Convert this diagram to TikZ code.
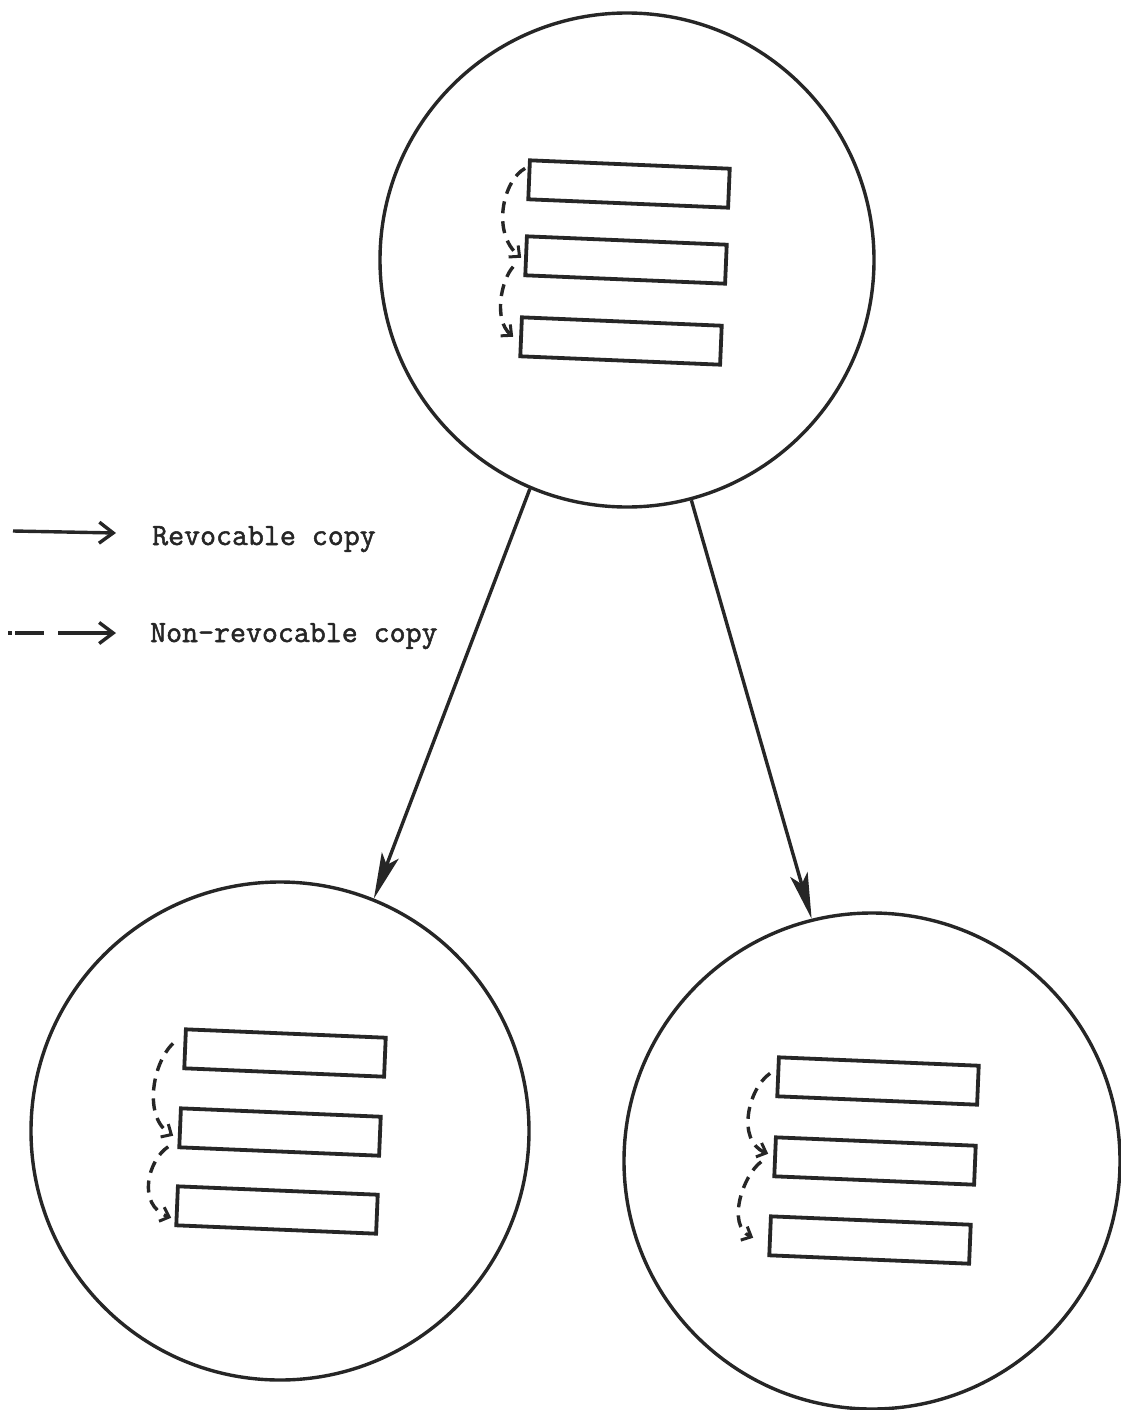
\documentclass[tikz,border=0pt]{standalone}
\usepackage{fontspec}
\newfontfamily\typer{Latin Modern Mono}[FakeBold=1.6]
\usetikzlibrary{arrows.meta,calc}
\definecolor{ink}{HTML}{262626}
\begin{document}
\begin{tikzpicture}[x=1pt,y=-1pt,
  realm/.style={draw=ink, circle, line width=3.4pt, inner sep=0pt},
  cell/.style={draw=ink, line width=3.8pt, minimum width=200pt, minimum height=39pt,
    inner sep=0pt, rotate=-2.4},
  grant/.style={draw=ink, line width=3.4pt, -{Stealth[length=46pt,width=18pt,inset=10pt]}},
  pass/.style={draw=ink, line width=3.4pt, dash pattern=on 12pt off 8pt,
    -{Straight Barb[length=8pt,width=15pt,line width=3pt]}},
  legendtip/.style={-{Straight Barb[length=14pt,width=21pt,line width=3.4pt]}},
  legendtext/.style={anchor=base west, inner sep=0pt, text=ink,
    font=\fontsize{31}{31}\selectfont\typer}
]
\useasboundingbox (0,0) rectangle (1120,1410);
\fill[white] (0,0) rectangle (1120,1410);

% the three domains
\node[realm, minimum size=494pt] (top) at (627,260) {};
\node[realm, minimum size=498pt] (left) at (280,1131) {};
\node[realm, minimum size=496pt] (right) at (872,1161) {};

% capability lists
\node[cell] (t1) at (629,184) {};
\node[cell] (t2) at (626,260) {};
\node[cell] (t3) at (621,341) {};
\node[cell] (l1) at (285,1053) {};
\node[cell] (l2) at (280,1132) {};
\node[cell] (l3) at (277,1210) {};
\node[cell] (r1) at (878,1081) {};
\node[cell] (r2) at (875,1161) {};
\node[cell] (r3) at (870,1240) {};

% revocable copies between domains
\draw[grant] (top.247.8) -- (left.68.1);
\draw[grant] (top.285.3) -- (right.104.9);

% non-revocable copies inside each domain
\draw[pass] ($(t1.north west)+(-3,10)$) .. controls +(-22,12) and +(-30,-25) .. ($(t2.west)+(-3,2)$);
\draw[pass] ($(t2.west)+(-11,11)$) .. controls +(-12,13) and +(-20,-17) .. ($(t3.west)+(-6,0)$);

\draw[pass] ($(l1.north west)+(-11,16)$) .. controls +(-21,20) and +(-30,-18) .. ($(l2.west)+(-5,8)$);
\draw[pass] ($(l2.west)+(-10,19)$) .. controls +(-20,13) and +(-35,-13) .. ($(l3.west)+(-4,12)$);

\draw[pass] ($(r1.north west)+(-7,18)$) .. controls +(-22,15) and +(-32,-13) .. ($(r2.west)+(-5,-3)$);
\draw[pass] ($(r2.west)+(-12,5)$) .. controls +(-18,13) and +(-27,-13) .. ($(r3.west)+(-15,2)$);

% legend
\coordinate (s0) at (13,531);
\coordinate (s1) at (116,533);
\draw[draw=ink, line width=3.4pt, legendtip] (s0) -- (s1);
\node[legendtext] (lrev) at (152,545) {Revocable copy};

\coordinate (d0) at (8,633);
\coordinate (d1) at (116,633);
\draw[draw=ink, line width=3.4pt, dash pattern=on 4pt off 3pt on 29pt off 14pt on 80pt, legendtip] (d0) -- (d1);
\node[legendtext] (lnon) at (150,642) {Non-revocable copy};
\end{tikzpicture}
\end{document}
